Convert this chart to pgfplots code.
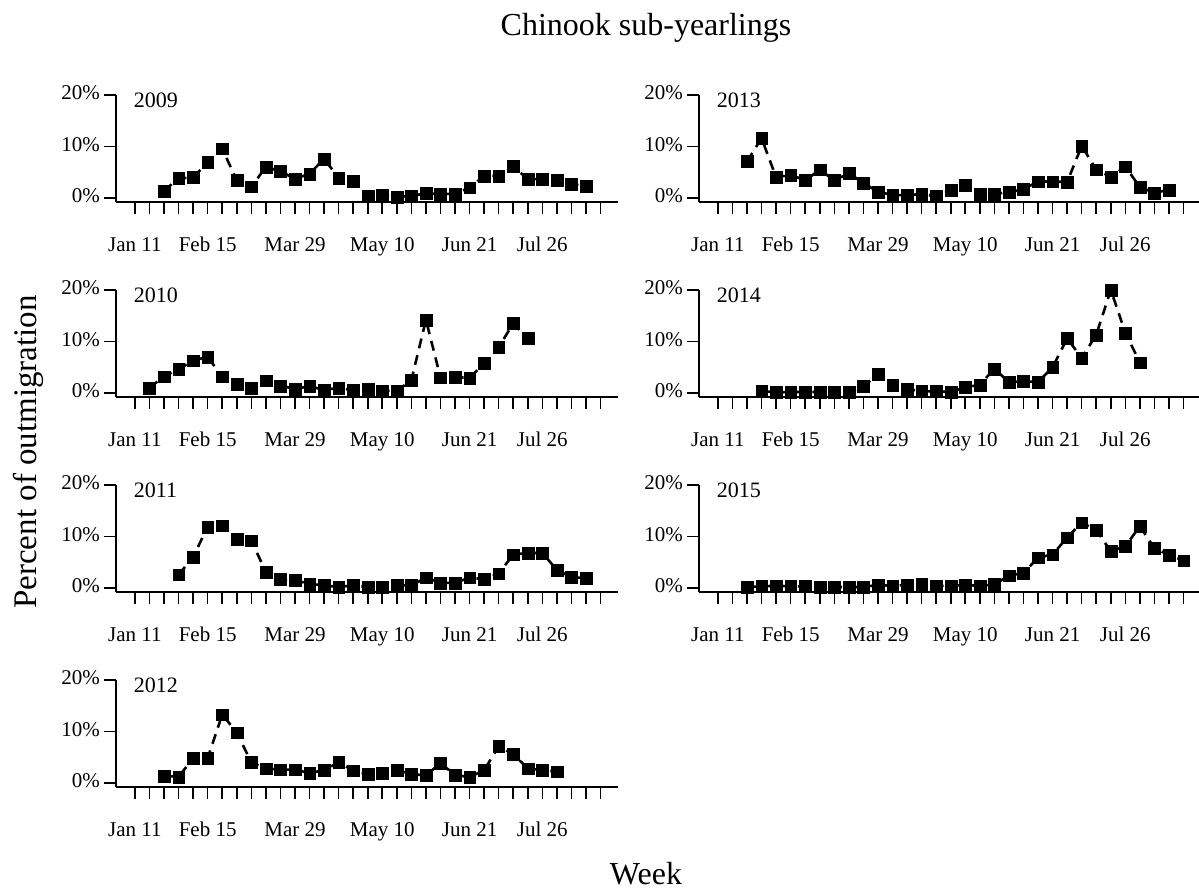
\documentclass[border=0pt]{standalone}
\usepackage{fontspec}
\setmainfont{Liberation Serif}
\usepackage{pgfplots}
\pgfplotsset{compat=1.18}

% one small panel per year, weeks numbered 0 (Jan 11) .. 32
\pgfplotsset{
  panel/.style={
    scale only axis, width=251pt, height=53.5pt,
    anchor=south west,
    xmin=-1.3, xmax=33.2, ymin=-0.78, ymax=20,
    axis x line=bottom, axis y line=left,
    axis line style={-, line width=1pt},
    xtick={0,...,32},
    xticklabels={Jan 11,,,,,Feb 15,,,,,,Mar 29,,,,,,May 10,,,,,,Jun 21,,,,,Jul 26},
    ytick={0,10,20}, yticklabels={0\%,10\%,20\%},
    tick align=outside, major tick length=6pt,
    tick style={line width=0.8pt, black},
    ticklabel style={font=\fontsize{10.5}{12}\selectfont},
    typeset ticklabels with strut,
    xticklabel style={yshift=-7pt},
    yticklabel style={xshift=1.5pt},
    clip=false,
  },
  fish/.style={black, line width=1.3pt, dash pattern=on 5pt off 3.5pt,
    mark=square*, mark size=2.95pt,
    mark options={solid, fill=black, line width=0.1pt}},
}
\newcommand{\yr}[1]{\node[anchor=west, inner sep=0pt, font=\fontsize{11}{13}\selectfont] at (axis description cs:0.035,0.95) {#1};}

\begin{document}
\begin{tikzpicture}
\path[use as bounding box] (0,0) rectangle (599.5pt,445pt);

\node[anchor=base, font=\fontsize{16}{19}\selectfont] at (323pt,427pt) {Chinook sub-yearlings};
\node[anchor=base, font=\fontsize{16}{19}\selectfont] at (323pt,3pt) {Week};
\node[rotate=90, font=\fontsize{16.5}{19}\selectfont] at (14pt,219pt) {Percent of outmigration};

% 2009
\begin{axis}[panel, at={(58pt,344pt)}]
\addplot[fish] coordinates {
(2,1.4)(3,3.8)(4,4.0)(5,6.9)(6,9.6)(7,3.4)(8,2.2)(9,6.0)(10,5.2)(11,3.7)
(12,4.7)(13,7.6)(14,3.9)(15,3.3)(16,0.4)(17,0.6)(18,0.2)(19,0.4)(20,0.9)
(21,0.8)(22,0.8)(23,2.0)(24,4.3)(25,4.3)(26,6.2)(27,3.6)(28,3.7)(29,3.5)
(30,2.7)(31,2.3)};
\yr{2009}
\end{axis}

% 2010
\begin{axis}[panel, at={(58pt,246.5pt)}]
\addplot[fish] coordinates {
(1,1.0)(2,3.2)(3,4.6)(4,6.3)(5,7.0)(6,3.2)(7,1.7)(8,1.0)(9,2.4)(10,1.4)
(11,0.8)(12,1.3)(13,0.6)(14,1.0)(15,0.5)(16,0.8)(17,0.4)(18,0.4)(19,2.5)
(20,14.2)(21,3.0)(22,3.1)(23,2.9)(24,5.8)(25,8.9)(26,13.5)(27,10.6)};
\yr{2010}
\end{axis}

% 2011
\begin{axis}[panel, at={(58pt,149pt)}]
\addplot[fish] coordinates {
(3,2.6)(4,6.0)(5,11.9)(6,12.1)(7,9.5)(8,9.2)(9,3.1)(10,1.7)(11,1.5)(12,0.8)
(13,0.5)(14,0.2)(15,0.5)(16,0.2)(17,0.1)(18,0.5)(19,0.5)(20,2.0)(21,1.0)
(22,1.0)(23,2.0)(24,1.7)(25,2.8)(26,6.5)(27,6.8)(28,6.8)(29,3.5)(30,2.1)
(31,1.9)};
\yr{2011}
\end{axis}

% 2012
\begin{axis}[panel, at={(58pt,51.5pt)}]
\addplot[fish] coordinates {
(2,1.4)(3,1.2)(4,4.8)(5,4.8)(6,13.3)(7,9.8)(8,4.0)(9,2.8)(10,2.6)(11,2.6)
(12,1.9)(13,2.5)(14,4.0)(15,2.4)(16,1.7)(17,1.9)(18,2.5)(19,1.7)(20,1.5)
(21,3.8)(22,1.6)(23,1.1)(24,2.5)(25,7.1)(26,5.6)(27,2.8)(28,2.5)(29,2.2)};
\yr{2012}
\end{axis}

% 2013
\begin{axis}[panel, at={(349.5pt,344pt)}]
\addplot[fish] coordinates {
(2,7.1)(3,11.6)(4,4.0)(5,4.5)(6,3.4)(7,5.5)(8,3.4)(9,4.8)(10,2.9)(11,1.2)
(12,0.6)(13,0.5)(14,0.8)(15,0.3)(16,1.5)(17,2.5)(18,0.8)(19,0.8)(20,1.1)
(21,1.7)(22,3.2)(23,3.2)(24,3.1)(25,10.1)(26,5.5)(27,4.1)(28,6.1)(29,2.1)
(30,1.0)(31,1.6)};
\yr{2013}
\end{axis}

% 2014
\begin{axis}[panel, at={(349.5pt,246.5pt)}]
\addplot[fish] coordinates {
(3,0.4)(4,0.1)(5,0.2)(6,0.2)(7,0.2)(8,0.1)(9,0.1)(10,1.3)(11,3.6)(12,1.6)
(13,0.8)(14,0.3)(15,0.3)(16,0.2)(17,1.1)(18,1.6)(19,4.7)(20,2.1)(21,2.3)
(22,2.1)(23,5.0)(24,10.6)(25,6.8)(26,11.3)(27,20.0)(28,11.7)(29,5.9)};
\yr{2014}
\end{axis}

% 2015
\begin{axis}[panel, at={(349.5pt,149pt)}]
\addplot[fish] coordinates {
(2,0.2)(3,0.3)(4,0.45)(5,0.3)(6,0.3)(7,0.2)(8,0.2)(9,0.2)(10,0.2)(11,0.6)
(12,0.4)(13,0.6)(14,0.8)(15,0.4)(16,0.4)(17,0.6)(18,0.4)(19,0.7)(20,2.4)
(21,2.9)(22,5.9)(23,6.5)(24,9.8)(25,12.7)(26,11.3)(27,7.1)(28,8.1)(29,12.0)
(30,7.7)(31,6.4)(32,5.3)};
\yr{2015}
\end{axis}

\end{tikzpicture}
\end{document}
